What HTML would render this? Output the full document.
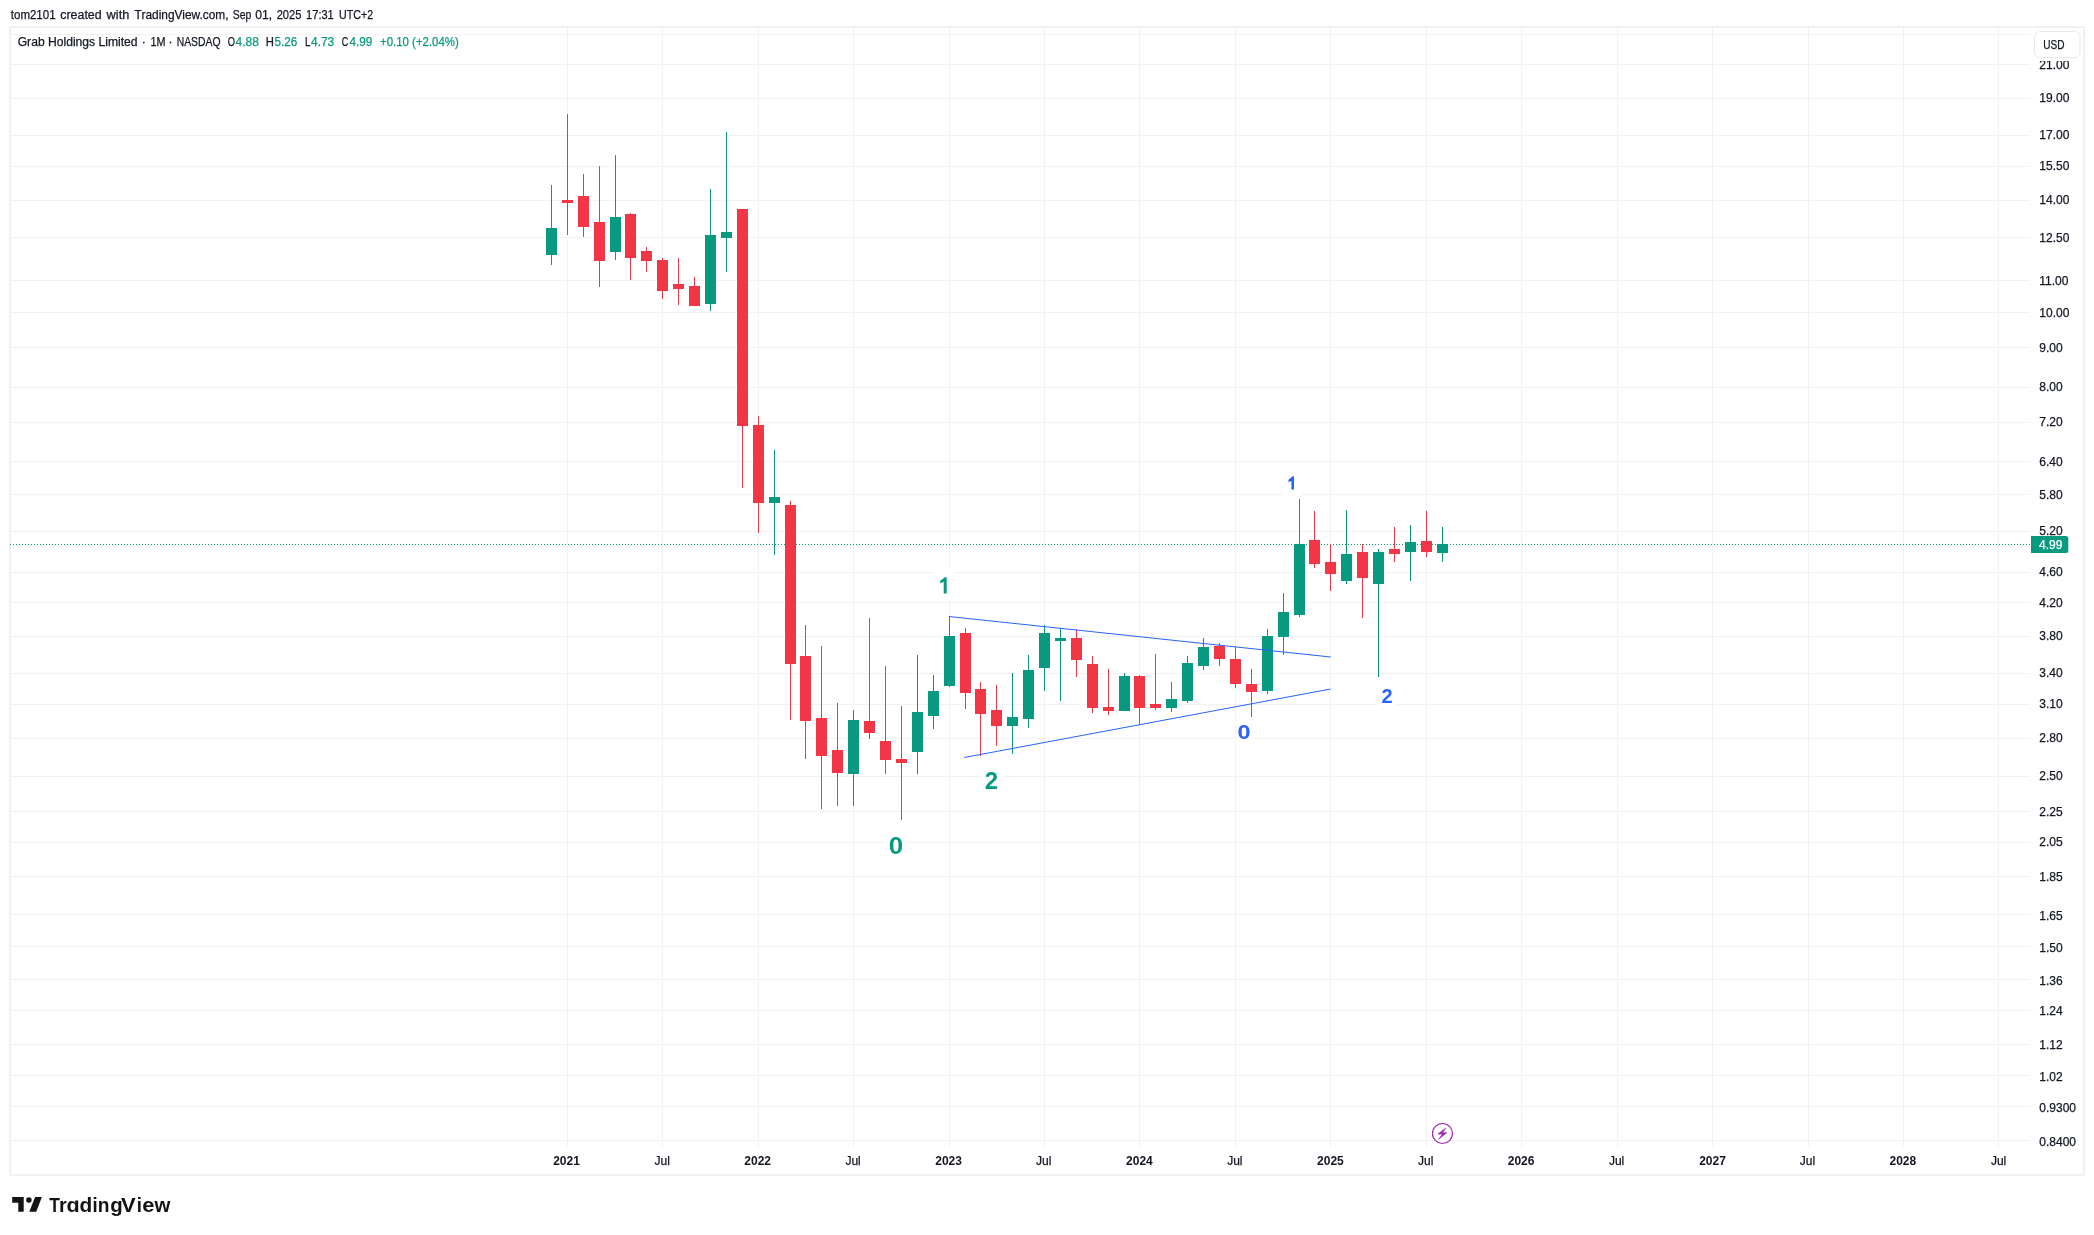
<!DOCTYPE html><html><head><meta charset="utf-8"><style>html,body{margin:0;padding:0;background:#fff;width:2094px;height:1235px;overflow:hidden}svg{position:absolute;left:0;top:0;display:block;will-change:transform}</style></head><body>
<svg width="2094" height="1235" viewBox="0 0 2094 1235" font-family='"Liberation Sans", sans-serif'>
<g shape-rendering="crispEdges" fill="#F1F1F1">
<rect x="9" y="26" width="2076" height="2"/>
<rect x="9" y="1174" width="2076" height="2"/>
<rect x="9" y="26" width="2" height="1150"/>
<rect x="2083" y="26" width="2" height="1150"/>
</g>
<g shape-rendering="crispEdges" fill="#F2F2F3">
<rect x="11" y="34" width="2019" height="1"/>
<rect x="11" y="64" width="2019" height="1"/>
<rect x="11" y="98" width="2019" height="1"/>
<rect x="11" y="135" width="2019" height="1"/>
<rect x="11" y="166" width="2019" height="1"/>
<rect x="11" y="200" width="2019" height="1"/>
<rect x="11" y="237" width="2019" height="1"/>
<rect x="11" y="280" width="2019" height="1"/>
<rect x="11" y="312" width="2019" height="1"/>
<rect x="11" y="347" width="2019" height="1"/>
<rect x="11" y="387" width="2019" height="1"/>
<rect x="11" y="422" width="2019" height="1"/>
<rect x="11" y="461" width="2019" height="1"/>
<rect x="11" y="494" width="2019" height="1"/>
<rect x="11" y="531" width="2019" height="1"/>
<rect x="11" y="572" width="2019" height="1"/>
<rect x="11" y="602" width="2019" height="1"/>
<rect x="11" y="636" width="2019" height="1"/>
<rect x="11" y="673" width="2019" height="1"/>
<rect x="11" y="704" width="2019" height="1"/>
<rect x="11" y="738" width="2019" height="1"/>
<rect x="11" y="776" width="2019" height="1"/>
<rect x="11" y="811" width="2019" height="1"/>
<rect x="11" y="842" width="2019" height="1"/>
<rect x="11" y="876" width="2019" height="1"/>
<rect x="11" y="914" width="2019" height="1"/>
<rect x="11" y="946" width="2019" height="1"/>
<rect x="11" y="979" width="2019" height="1"/>
<rect x="11" y="1010" width="2019" height="1"/>
<rect x="11" y="1044" width="2019" height="1"/>
<rect x="11" y="1075" width="2019" height="1"/>
<rect x="11" y="1106" width="2019" height="1"/>
<rect x="11" y="1140" width="2019" height="1"/>
<rect x="567" y="28" width="1" height="1119"/>
<rect x="662" y="28" width="1" height="1119"/>
<rect x="758" y="28" width="1" height="1119"/>
<rect x="853" y="28" width="1" height="1119"/>
<rect x="949" y="28" width="1" height="1119"/>
<rect x="1044" y="28" width="1" height="1119"/>
<rect x="1139" y="28" width="1" height="1119"/>
<rect x="1235" y="28" width="1" height="1119"/>
<rect x="1330" y="28" width="1" height="1119"/>
<rect x="1426" y="28" width="1" height="1119"/>
<rect x="1521" y="28" width="1" height="1119"/>
<rect x="1617" y="28" width="1" height="1119"/>
<rect x="1712" y="28" width="1" height="1119"/>
<rect x="1808" y="28" width="1" height="1119"/>
<rect x="1903" y="28" width="1" height="1119"/>
<rect x="1998" y="28" width="1" height="1119"/>
</g>
<line x1="10" y1="544.5" x2="2030" y2="544.5" stroke="#089981" stroke-width="1" stroke-dasharray="1 2" shape-rendering="crispEdges"/>
<g shape-rendering="crispEdges">
<rect x="551" y="185" width="1" height="80" fill="#089981"/>
<rect x="546" y="228" width="11" height="27" fill="#089981"/>
<rect x="567" y="114" width="1" height="121" fill="#F23645"/>
<rect x="562" y="200" width="11" height="3" fill="#F23645"/>
<rect x="583" y="174" width="1" height="63" fill="#F23645"/>
<rect x="578" y="196" width="11" height="31" fill="#F23645"/>
<rect x="599" y="166" width="1" height="121" fill="#F23645"/>
<rect x="594" y="222" width="11" height="39" fill="#F23645"/>
<rect x="615" y="155" width="1" height="105" fill="#089981"/>
<rect x="610" y="217" width="11" height="35" fill="#089981"/>
<rect x="630" y="213" width="1" height="67" fill="#F23645"/>
<rect x="625" y="214" width="11" height="44" fill="#F23645"/>
<rect x="646" y="247" width="1" height="25" fill="#F23645"/>
<rect x="641" y="251" width="11" height="10" fill="#F23645"/>
<rect x="662" y="258" width="1" height="41" fill="#F23645"/>
<rect x="657" y="260" width="11" height="31" fill="#F23645"/>
<rect x="678" y="258" width="1" height="47" fill="#F23645"/>
<rect x="673" y="284" width="11" height="5" fill="#F23645"/>
<rect x="694" y="277" width="1" height="29" fill="#F23645"/>
<rect x="689" y="286" width="11" height="20" fill="#F23645"/>
<rect x="710" y="189" width="1" height="122" fill="#089981"/>
<rect x="705" y="235" width="11" height="69" fill="#089981"/>
<rect x="726" y="132" width="1" height="140" fill="#089981"/>
<rect x="721" y="232" width="11" height="6" fill="#089981"/>
<rect x="742" y="209" width="1" height="279" fill="#F23645"/>
<rect x="737" y="209" width="11" height="217" fill="#F23645"/>
<rect x="758" y="416" width="1" height="117" fill="#F23645"/>
<rect x="753" y="425" width="11" height="78" fill="#F23645"/>
<rect x="774" y="450" width="1" height="105" fill="#089981"/>
<rect x="769" y="497" width="11" height="6" fill="#089981"/>
<rect x="790" y="501" width="1" height="219" fill="#F23645"/>
<rect x="785" y="505" width="11" height="159" fill="#F23645"/>
<rect x="805" y="625" width="1" height="134" fill="#F23645"/>
<rect x="800" y="656" width="11" height="65" fill="#F23645"/>
<rect x="821" y="646" width="1" height="163" fill="#F23645"/>
<rect x="816" y="718" width="11" height="38" fill="#F23645"/>
<rect x="837" y="703" width="1" height="103" fill="#F23645"/>
<rect x="832" y="750" width="11" height="23" fill="#F23645"/>
<rect x="853" y="710" width="1" height="96" fill="#089981"/>
<rect x="848" y="720" width="11" height="54" fill="#089981"/>
<rect x="869" y="618" width="1" height="121" fill="#F23645"/>
<rect x="864" y="721" width="11" height="12" fill="#F23645"/>
<rect x="885" y="666" width="1" height="108" fill="#F23645"/>
<rect x="880" y="741" width="11" height="19" fill="#F23645"/>
<rect x="901" y="706" width="1" height="114" fill="#F23645"/>
<rect x="896" y="759" width="11" height="4" fill="#F23645"/>
<rect x="917" y="655" width="1" height="119" fill="#089981"/>
<rect x="912" y="712" width="11" height="40" fill="#089981"/>
<rect x="933" y="675" width="1" height="54" fill="#089981"/>
<rect x="928" y="691" width="11" height="25" fill="#089981"/>
<rect x="949" y="616" width="1" height="71" fill="#089981"/>
<rect x="944" y="636" width="11" height="50" fill="#089981"/>
<rect x="965" y="628" width="1" height="81" fill="#F23645"/>
<rect x="960" y="633" width="11" height="60" fill="#F23645"/>
<rect x="980" y="682" width="1" height="74" fill="#F23645"/>
<rect x="975" y="689" width="11" height="25" fill="#F23645"/>
<rect x="996" y="685" width="1" height="61" fill="#F23645"/>
<rect x="991" y="710" width="11" height="16" fill="#F23645"/>
<rect x="1012" y="673" width="1" height="81" fill="#089981"/>
<rect x="1007" y="717" width="11" height="9" fill="#089981"/>
<rect x="1028" y="655" width="1" height="73" fill="#089981"/>
<rect x="1023" y="670" width="11" height="49" fill="#089981"/>
<rect x="1044" y="625" width="1" height="66" fill="#089981"/>
<rect x="1039" y="633" width="11" height="35" fill="#089981"/>
<rect x="1060" y="628" width="1" height="73" fill="#089981"/>
<rect x="1055" y="638" width="11" height="3" fill="#089981"/>
<rect x="1076" y="629" width="1" height="48" fill="#F23645"/>
<rect x="1071" y="638" width="11" height="22" fill="#F23645"/>
<rect x="1092" y="656" width="1" height="57" fill="#F23645"/>
<rect x="1087" y="664" width="11" height="44" fill="#F23645"/>
<rect x="1108" y="669" width="1" height="46" fill="#F23645"/>
<rect x="1103" y="707" width="11" height="4" fill="#F23645"/>
<rect x="1124" y="673" width="1" height="38" fill="#089981"/>
<rect x="1119" y="676" width="11" height="35" fill="#089981"/>
<rect x="1139" y="675" width="1" height="50" fill="#F23645"/>
<rect x="1134" y="676" width="11" height="32" fill="#F23645"/>
<rect x="1155" y="654" width="1" height="56" fill="#F23645"/>
<rect x="1150" y="704" width="11" height="4" fill="#F23645"/>
<rect x="1171" y="682" width="1" height="30" fill="#089981"/>
<rect x="1166" y="699" width="11" height="9" fill="#089981"/>
<rect x="1187" y="656" width="1" height="47" fill="#089981"/>
<rect x="1182" y="663" width="11" height="38" fill="#089981"/>
<rect x="1203" y="638" width="1" height="32" fill="#089981"/>
<rect x="1198" y="647" width="11" height="19" fill="#089981"/>
<rect x="1219" y="643" width="1" height="23" fill="#F23645"/>
<rect x="1214" y="646" width="11" height="13" fill="#F23645"/>
<rect x="1235" y="647" width="1" height="41" fill="#F23645"/>
<rect x="1230" y="659" width="11" height="25" fill="#F23645"/>
<rect x="1251" y="669" width="1" height="48" fill="#F23645"/>
<rect x="1246" y="684" width="11" height="8" fill="#F23645"/>
<rect x="1267" y="629" width="1" height="65" fill="#089981"/>
<rect x="1262" y="636" width="11" height="55" fill="#089981"/>
<rect x="1283" y="593" width="1" height="62" fill="#089981"/>
<rect x="1278" y="612" width="11" height="25" fill="#089981"/>
<rect x="1299" y="499" width="1" height="118" fill="#089981"/>
<rect x="1294" y="544" width="11" height="71" fill="#089981"/>
<rect x="1314" y="511" width="1" height="57" fill="#F23645"/>
<rect x="1309" y="540" width="11" height="24" fill="#F23645"/>
<rect x="1330" y="544" width="1" height="47" fill="#F23645"/>
<rect x="1325" y="562" width="11" height="12" fill="#F23645"/>
<rect x="1346" y="510" width="1" height="74" fill="#089981"/>
<rect x="1341" y="554" width="11" height="27" fill="#089981"/>
<rect x="1362" y="544" width="1" height="74" fill="#F23645"/>
<rect x="1357" y="552" width="11" height="26" fill="#F23645"/>
<rect x="1378" y="549" width="1" height="128" fill="#089981"/>
<rect x="1373" y="552" width="11" height="32" fill="#089981"/>
<rect x="1394" y="527" width="1" height="35" fill="#F23645"/>
<rect x="1389" y="549" width="11" height="5" fill="#F23645"/>
<rect x="1410" y="525" width="1" height="56" fill="#089981"/>
<rect x="1405" y="542" width="11" height="10" fill="#089981"/>
<rect x="1426" y="511" width="1" height="46" fill="#F23645"/>
<rect x="1421" y="541" width="11" height="11" fill="#F23645"/>
<rect x="1442" y="527" width="1" height="35" fill="#089981"/>
<rect x="1437" y="544" width="11" height="9" fill="#089981"/>
</g>
<line x1="948.9" y1="616.5" x2="1330.6" y2="657.0" stroke="#2962FF" stroke-width="1"/>
<line x1="964.2" y1="757.5" x2="1330.6" y2="689.0" stroke="#2962FF" stroke-width="1"/>
<rect x="885" y="830" width="22" height="30" fill="#fff"/>
<text transform="translate(896.0 854.1) scale(1.08 1)" x="0" y="0" fill="#089981" font-size="24" font-weight="700" text-anchor="middle">0</text>
<rect x="933" y="570" width="22" height="30" fill="#fff"/>
<path d="M946.7 577.3 L946.7 593.6 L943.7 593.6 L943.7 581.7 L940.2 583.6 L940.2 580.7 L944.9 577.3 Z" fill="#089981"/>
<rect x="980" y="765" width="23" height="30" fill="#fff"/>
<text transform="translate(991.5 789.4) scale(1.0 1)" x="0" y="0" fill="#089981" font-size="24" font-weight="700" text-anchor="middle">2</text>
<rect x="1236" y="719" width="17" height="27" fill="#fff"/>
<text transform="translate(1244.0 738.7) scale(1.17 1)" x="0" y="0" fill="#2962FF" font-size="20" font-weight="700" text-anchor="middle">0</text>
<rect x="1283" y="470" width="18" height="27" fill="#fff"/>
<path d="M1294.0 476.3 L1294.0 489.6 L1291.4 489.6 L1291.4 480.9 L1288.5 482.3 L1288.5 479.8 L1292.8 476.3 Z" fill="#2962FF"/>
<rect x="1378" y="682" width="18" height="27" fill="#fff"/>
<text transform="translate(1387.0 703.0) scale(1.0 1)" x="0" y="0" fill="#2962FF" font-size="20" font-weight="700" text-anchor="middle">2</text>
<circle cx="1442.5" cy="1133.5" r="10" fill="#fff" stroke="#9C27B0" stroke-width="1.2"/>
<path d="M1445.9 1128.0 L1437.9 1134.1 L1442.4 1134.1 L1438.8 1139.1 L1446.9 1132.7 L1442.5 1132.7 Z" fill="#9C27B0" stroke="#9C27B0" stroke-width="0.6" stroke-linejoin="round"/>
<text x="2039.3" y="69" fill="#131722" font-size="12" stroke="#131722" stroke-width="0.25">21.00</text>
<text x="2039.3" y="102" fill="#131722" font-size="12" stroke="#131722" stroke-width="0.25">19.00</text>
<text x="2039.3" y="139" fill="#131722" font-size="12" stroke="#131722" stroke-width="0.25">17.00</text>
<text x="2039.3" y="170" fill="#131722" font-size="12" stroke="#131722" stroke-width="0.25">15.50</text>
<text x="2039.3" y="204" fill="#131722" font-size="12" stroke="#131722" stroke-width="0.25">14.00</text>
<text x="2039.3" y="242" fill="#131722" font-size="12" stroke="#131722" stroke-width="0.25">12.50</text>
<text x="2039.3" y="285" fill="#131722" font-size="12" stroke="#131722" stroke-width="0.25">11.00</text>
<text x="2039.3" y="317" fill="#131722" font-size="12" stroke="#131722" stroke-width="0.25">10.00</text>
<text x="2039.3" y="352" fill="#131722" font-size="12" stroke="#131722" stroke-width="0.25">9.00</text>
<text x="2039.3" y="391" fill="#131722" font-size="12" stroke="#131722" stroke-width="0.25">8.00</text>
<text x="2039.3" y="426" fill="#131722" font-size="12" stroke="#131722" stroke-width="0.25">7.20</text>
<text x="2039.3" y="466" fill="#131722" font-size="12" stroke="#131722" stroke-width="0.25">6.40</text>
<text x="2039.3" y="499" fill="#131722" font-size="12" stroke="#131722" stroke-width="0.25">5.80</text>
<text x="2039.3" y="535" fill="#131722" font-size="12" stroke="#131722" stroke-width="0.25">5.20</text>
<text x="2039.3" y="576" fill="#131722" font-size="12" stroke="#131722" stroke-width="0.25">4.60</text>
<text x="2039.3" y="607" fill="#131722" font-size="12" stroke="#131722" stroke-width="0.25">4.20</text>
<text x="2039.3" y="640" fill="#131722" font-size="12" stroke="#131722" stroke-width="0.25">3.80</text>
<text x="2039.3" y="677" fill="#131722" font-size="12" stroke="#131722" stroke-width="0.25">3.40</text>
<text x="2039.3" y="708" fill="#131722" font-size="12" stroke="#131722" stroke-width="0.25">3.10</text>
<text x="2039.3" y="742" fill="#131722" font-size="12" stroke="#131722" stroke-width="0.25">2.80</text>
<text x="2039.3" y="780" fill="#131722" font-size="12" stroke="#131722" stroke-width="0.25">2.50</text>
<text x="2039.3" y="816" fill="#131722" font-size="12" stroke="#131722" stroke-width="0.25">2.25</text>
<text x="2039.3" y="846" fill="#131722" font-size="12" stroke="#131722" stroke-width="0.25">2.05</text>
<text x="2039.3" y="881" fill="#131722" font-size="12" stroke="#131722" stroke-width="0.25">1.85</text>
<text x="2039.3" y="920" fill="#131722" font-size="12" stroke="#131722" stroke-width="0.25">1.65</text>
<text x="2039.3" y="952" fill="#131722" font-size="12" stroke="#131722" stroke-width="0.25">1.50</text>
<text x="2039.3" y="985" fill="#131722" font-size="12" stroke="#131722" stroke-width="0.25">1.36</text>
<text x="2039.3" y="1015" fill="#131722" font-size="12" stroke="#131722" stroke-width="0.25">1.24</text>
<text x="2039.3" y="1049" fill="#131722" font-size="12" stroke="#131722" stroke-width="0.25">1.12</text>
<text x="2039.3" y="1081" fill="#131722" font-size="12" stroke="#131722" stroke-width="0.25">1.02</text>
<text x="2039.3" y="1112" fill="#131722" font-size="12" stroke="#131722" stroke-width="0.25">0.9300</text>
<text x="2039.3" y="1146" fill="#131722" font-size="12" stroke="#131722" stroke-width="0.25">0.8400</text>
<rect x="2032" y="29" width="50" height="32" fill="#fff"/>
<rect x="2034.5" y="31.5" width="45.5" height="26" rx="5" ry="5" fill="#fff" stroke="#E9E9EA" stroke-width="1"/>
<text x="2043.14" y="49" fill="#131722" font-size="12" textLength="21.31" lengthAdjust="spacingAndGlyphs" stroke="#131722" stroke-width="0.25">USD</text>
<path d="M2031 536 H2065.8 A2.5 2.5 0 0 1 2068.3 538.5 V550.5 A2.5 2.5 0 0 1 2065.8 553 H2031 Z" fill="#089981"/>
<text x="2039.1" y="549.3" fill="#fff" font-size="12" stroke="#fff" stroke-width="0.25">4.99</text>
<text x="566.55" y="1165.1" fill="#131722" font-size="12" font-weight="700" text-anchor="middle">2021</text>
<text x="662.15" y="1165.1" fill="#131722" font-size="12" font-weight="400" text-anchor="middle" stroke="#131722" stroke-width="0.25">Jul</text>
<text x="757.70" y="1165.1" fill="#131722" font-size="12" font-weight="700" text-anchor="middle">2022</text>
<text x="853.10" y="1165.1" fill="#131722" font-size="12" font-weight="400" text-anchor="middle" stroke="#131722" stroke-width="0.25">Jul</text>
<text x="948.60" y="1165.1" fill="#131722" font-size="12" font-weight="700" text-anchor="middle">2023</text>
<text x="1043.75" y="1165.1" fill="#131722" font-size="12" font-weight="400" text-anchor="middle" stroke="#131722" stroke-width="0.25">Jul</text>
<text x="1139.40" y="1165.1" fill="#131722" font-size="12" font-weight="700" text-anchor="middle">2024</text>
<text x="1234.85" y="1165.1" fill="#131722" font-size="12" font-weight="400" text-anchor="middle" stroke="#131722" stroke-width="0.25">Jul</text>
<text x="1330.45" y="1165.1" fill="#131722" font-size="12" font-weight="700" text-anchor="middle">2025</text>
<text x="1425.70" y="1165.1" fill="#131722" font-size="12" font-weight="400" text-anchor="middle" stroke="#131722" stroke-width="0.25">Jul</text>
<text x="1521.10" y="1165.1" fill="#131722" font-size="12" font-weight="700" text-anchor="middle">2026</text>
<text x="1616.55" y="1165.1" fill="#131722" font-size="12" font-weight="400" text-anchor="middle" stroke="#131722" stroke-width="0.25">Jul</text>
<text x="1712.55" y="1165.1" fill="#131722" font-size="12" font-weight="700" text-anchor="middle">2027</text>
<text x="1807.40" y="1165.1" fill="#131722" font-size="12" font-weight="400" text-anchor="middle" stroke="#131722" stroke-width="0.25">Jul</text>
<text x="1902.85" y="1165.1" fill="#131722" font-size="12" font-weight="700" text-anchor="middle">2028</text>
<text x="1998.55" y="1165.1" fill="#131722" font-size="12" font-weight="400" text-anchor="middle" stroke="#131722" stroke-width="0.25">Jul</text>
<text x="10.81" y="19" fill="#131722" font-size="12" textLength="44.77" lengthAdjust="spacingAndGlyphs" stroke="#131722" stroke-width="0.25">tom2101</text>
<text x="60.28" y="19" fill="#131722" font-size="12" textLength="41.37" lengthAdjust="spacingAndGlyphs" stroke="#131722" stroke-width="0.25">created</text>
<text x="106.60" y="19" fill="#131722" font-size="12" textLength="22.69" lengthAdjust="spacingAndGlyphs" stroke="#131722" stroke-width="0.25">with</text>
<text x="134.60" y="19" fill="#131722" font-size="12" textLength="94.00" lengthAdjust="spacingAndGlyphs" stroke="#131722" stroke-width="0.25">TradingView.com,</text>
<text x="232.78" y="19" fill="#131722" font-size="12" textLength="18.50" lengthAdjust="spacingAndGlyphs" stroke="#131722" stroke-width="0.25">Sep</text>
<text x="255.29" y="19" fill="#131722" font-size="12" textLength="16.90" lengthAdjust="spacingAndGlyphs" stroke="#131722" stroke-width="0.25">01,</text>
<text x="276.64" y="19" fill="#131722" font-size="12" textLength="24.71" lengthAdjust="spacingAndGlyphs" stroke="#131722" stroke-width="0.25">2025</text>
<text x="306.07" y="19" fill="#131722" font-size="12" textLength="27.71" lengthAdjust="spacingAndGlyphs" stroke="#131722" stroke-width="0.25">17:31</text>
<text x="339.10" y="19" fill="#131722" font-size="12" textLength="34.07" lengthAdjust="spacingAndGlyphs" stroke="#131722" stroke-width="0.25">UTC+2</text>
<text x="17.69" y="45.8" fill="#131722" font-size="12" textLength="119.84" lengthAdjust="spacingAndGlyphs" stroke="#131722" stroke-width="0.25">Grab Holdings Limited</text>
<text x="141.80" y="45.8" fill="#131722" font-size="12" stroke="#131722" stroke-width="0.25">·</text>
<text x="150.39" y="45.8" fill="#131722" font-size="12" textLength="15.09" lengthAdjust="spacingAndGlyphs" stroke="#131722" stroke-width="0.25">1M</text>
<text x="168.60" y="45.8" fill="#131722" font-size="12" stroke="#131722" stroke-width="0.25">·</text>
<text x="176.63" y="45.8" fill="#131722" font-size="12" textLength="43.87" lengthAdjust="spacingAndGlyphs" stroke="#131722" stroke-width="0.25">NASDAQ</text>
<text x="227.64" y="45.8" fill="#131722" font-size="12" textLength="7.17" lengthAdjust="spacingAndGlyphs" stroke="#131722" stroke-width="0.25">O</text>
<text x="235.60" y="45.8" fill="#089981" font-size="12" textLength="23.25" lengthAdjust="spacingAndGlyphs" stroke="#089981" stroke-width="0.25">4.88</text>
<text x="265.86" y="45.8" fill="#131722" font-size="12" textLength="8.15" lengthAdjust="spacingAndGlyphs" stroke="#131722" stroke-width="0.25">H</text>
<text x="274.41" y="45.8" fill="#089981" font-size="12" textLength="22.73" lengthAdjust="spacingAndGlyphs" stroke="#089981" stroke-width="0.25">5.26</text>
<text x="305.09" y="45.8" fill="#131722" font-size="12" textLength="5.42" lengthAdjust="spacingAndGlyphs" stroke="#131722" stroke-width="0.25">L</text>
<text x="311.00" y="45.8" fill="#089981" font-size="12" textLength="23.25" lengthAdjust="spacingAndGlyphs" stroke="#089981" stroke-width="0.25">4.73</text>
<text x="341.75" y="45.8" fill="#131722" font-size="12" textLength="6.50" lengthAdjust="spacingAndGlyphs" stroke="#131722" stroke-width="0.25">C</text>
<text x="349.41" y="45.8" fill="#089981" font-size="12" textLength="22.84" lengthAdjust="spacingAndGlyphs" stroke="#089981" stroke-width="0.25">4.99</text>
<text x="380.03" y="45.8" fill="#089981" font-size="12" textLength="78.76" lengthAdjust="spacingAndGlyphs" stroke="#089981" stroke-width="0.25">+0.10 (+2.04%)</text>
<g fill="#131313">
<path d="M12.2 1197.1 H23.7 V1211.7 H18.3 V1202.7 H12.2 Z"/>
<circle cx="28.9" cy="1200.0" r="2.75"/>
<path d="M35.1 1197.1 H41.9 L36.2 1211.7 H29.3 Z"/>
<clipPath id="xh"><rect x="60" y="1200.6" width="25" height="12"/></clipPath>
<text x="49.13" y="1211.7" font-size="20" font-weight="700" textLength="10.66" lengthAdjust="spacingAndGlyphs">T</text>
<text x="58.90" y="1211.7" font-size="20" font-weight="700" textLength="7.78" lengthAdjust="spacingAndGlyphs">r</text>
<text x="66.44" y="1211.7" font-size="20" font-weight="700" textLength="13.18" lengthAdjust="spacingAndGlyphs" clip-path="url(#xh)">d</text>
<text x="79.57" y="1211.7" font-size="20" font-weight="700" textLength="12.70" lengthAdjust="spacingAndGlyphs">d</text>
<text x="92.40" y="1211.7" font-size="20" font-weight="700" textLength="5.15" lengthAdjust="spacingAndGlyphs">i</text>
<text x="97.75" y="1211.7" font-size="20" font-weight="700" textLength="11.71" lengthAdjust="spacingAndGlyphs">n</text>
<text x="110.28" y="1211.7" font-size="20" font-weight="700" textLength="12.46" lengthAdjust="spacingAndGlyphs">g</text>
<text x="121.08" y="1211.7" font-size="20" font-weight="700" textLength="14.67" lengthAdjust="spacingAndGlyphs">V</text>
<text x="136.80" y="1211.7" font-size="20" font-weight="700" textLength="5.15" lengthAdjust="spacingAndGlyphs">i</text>
<text x="142.23" y="1211.7" font-size="20" font-weight="700" textLength="12.17" lengthAdjust="spacingAndGlyphs">e</text>
<text x="154.50" y="1211.7" font-size="20" font-weight="700" textLength="15.86" lengthAdjust="spacingAndGlyphs">w</text>
</g>
</svg></body></html>
